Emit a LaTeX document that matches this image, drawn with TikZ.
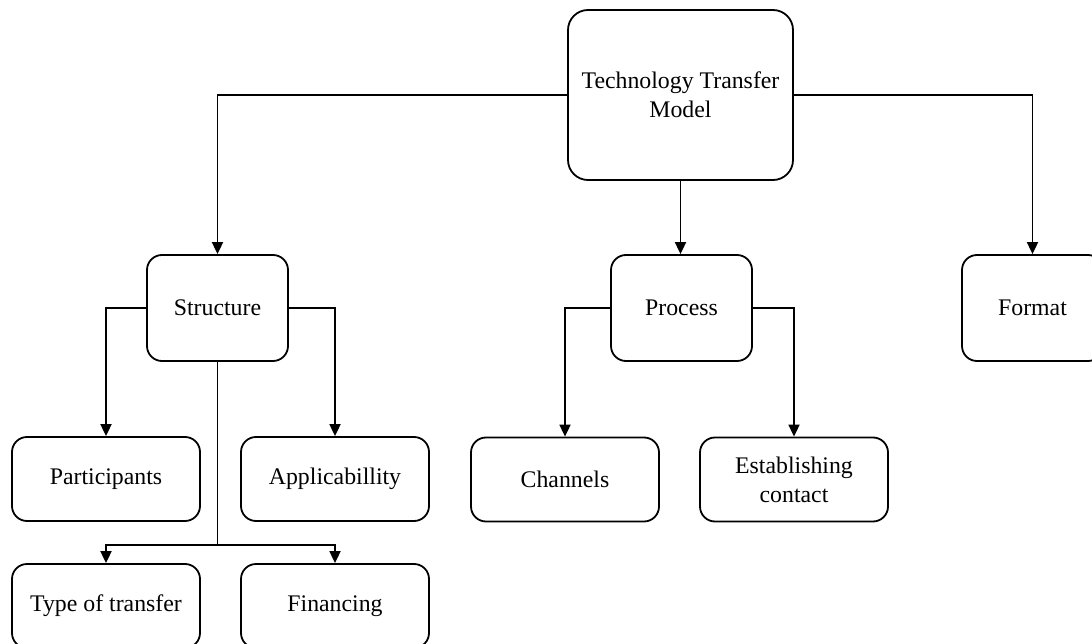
\documentclass[tikz,border=0pt]{standalone}
\usepackage{fontspec}
\setmainfont{Liberation Serif}
\usetikzlibrary{arrows.meta}
\begin{document}
\begin{tikzpicture}[x=1pt,y=-1pt,
  box/.style={draw=black, line width=1.8pt, rounded corners=15pt, align=center,
    font=\fontsize{23.8}{29}\selectfont, inner sep=0pt},
  midbox/.style={box, minimum width=141pt, minimum height=106pt},
  leafbox/.style={box, minimum width=188pt, minimum height=84pt},
  link/.style={draw=black, line width=1.8pt},
  arrowlink/.style={link, -{Triangle[length=12pt,width=11pt]}}]
  \fill[white] (0,0) rectangle (1092,644);
  \useasboundingbox (0,0) rectangle (1092,644);

  % root
  \node[box, rounded corners=20pt, minimum width=225pt, minimum height=170pt] (ttm) at (680.5,95) {Technology Transfer\\Model};

  % second level
  \node[midbox] (structure) at (217.5,308) {Structure};
  \node[midbox] (process) at (681.5,308) {Process};
  \node[midbox] (format) at (1032.5,308) {Format};

  % leaves under Structure
  \node[leafbox] (participants) at (106,479) {Participants};
  \node[leafbox] (applicability) at (335,479) {Applicabillity};
  \node[leafbox] (transfer) at (106,606) {Type of transfer};
  \node[leafbox] (financing) at (335,606) {Financing};

  % leaves under Process
  \node[leafbox] (channels) at (565,479.5) {Channels};
  \node[leafbox] (contact) at (794,479.5) {Establishing\\contact};

  % root connectors
  \draw[arrowlink] (ttm.west) -| (structure.north);
  \draw[arrowlink] (ttm.east) -| (format.north);
  \draw[arrowlink] (ttm.south) -- (ttm.south |- process.north);

  % Structure connectors
  \draw[arrowlink] (structure.west) -| (participants.north);
  \draw[arrowlink] (structure.east) -| (applicability.north);
  \coordinate (split) at (structure.south |- 0,545);
  \draw[link] (structure.south) -- (split);
  \draw[arrowlink] (split) -| (transfer.north);
  \draw[arrowlink] (split) -| (financing.north);

  % Process connectors
  \draw[arrowlink] (process.west) -| (channels.north);
  \draw[arrowlink] (process.east) -| (contact.north);
\end{tikzpicture}
\end{document}
